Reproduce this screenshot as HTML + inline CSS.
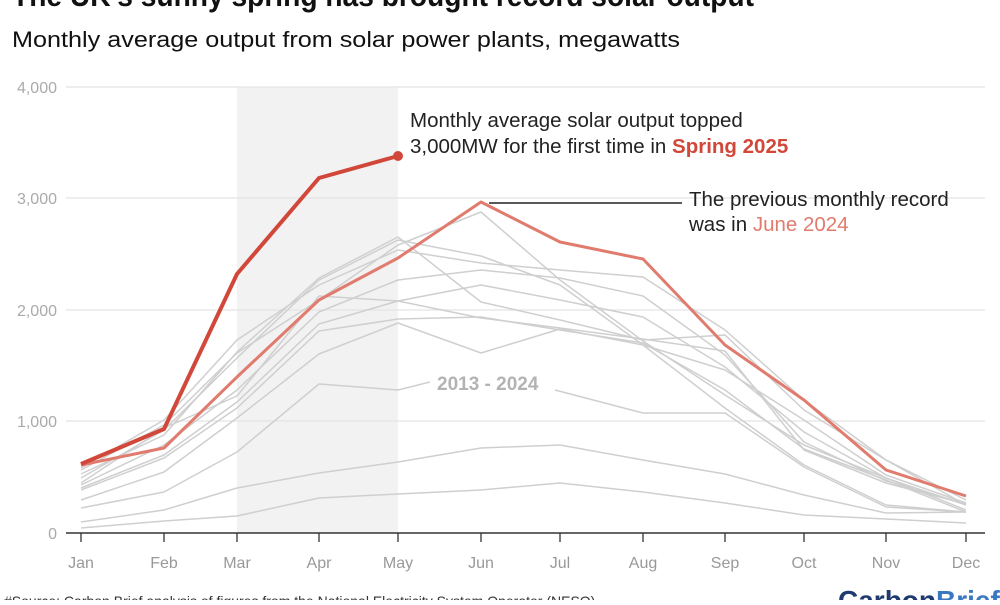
<!DOCTYPE html>
<html><head><meta charset="utf-8"><style>
body{margin:0;background:#fff;width:1000px;height:600px;overflow:hidden;font-family:"Liberation Sans",sans-serif}
</style></head><body>
<svg width="1000" height="600" xmlns="http://www.w3.org/2000/svg" font-family="Liberation Sans, sans-serif">
<text x="12" y="6" font-size="31" font-weight="bold" fill="#111" textLength="742" lengthAdjust="spacingAndGlyphs">The UK's sunny spring has brought record solar output</text>
<text x="12" y="47" font-size="22" fill="#111" textLength="668" lengthAdjust="spacingAndGlyphs">Monthly average output from solar power plants, megawatts</text>
<rect x="237" y="87" width="161" height="446" fill="#f2f2f2"/>
<g stroke="#e4e4e4" stroke-width="1.2">
<line x1="66" y1="87" x2="985" y2="87"/><line x1="66" y1="198" x2="985" y2="198"/><line x1="66" y1="310" x2="985" y2="310"/><line x1="66" y1="421" x2="985" y2="421"/>
</g>
<g font-size="16" fill="#aaa" text-anchor="end">
<text x="57" y="93">4,000</text><text x="57" y="204">3,000</text><text x="57" y="316">2,000</text><text x="57" y="427">1,000</text><text x="57" y="539">0</text>
</g>
<g fill="none" stroke="#cfcfcf" stroke-width="1.5" stroke-linejoin="round">
<polyline points="81,528 164,521 237,516 319,498 398,494 481,490 560,483 643,492 725,503 804,515 886,519 966,523"/>
<polyline points="81,522 164,510 237,488 319,473 398,462 481,448 560,445 643,460 725,474 804,495 886,513 966,512"/>
<polyline points="81,508 164,492 237,452 319,384 398,390 430,382"/>
<polyline points="555,390 643,413 725,413 804,467 886,507 966,512"/>
<polyline points="81,500 164,472 237,418 319,354 398,323 481,353 560,329 643,345 725,408 804,465 886,505 966,512"/>
<polyline points="81,490 164,458 237,408 319,331 398,319 481,317 560,330 643,343 725,390 804,449 886,480 966,512"/>
<polyline points="81,488 164,455 237,402 319,324 398,301 481,285 560,300 643,317 725,367 804,432 886,478 966,510"/>
<polyline points="81,485 164,445 237,390 319,312 398,280 481,270 560,278 643,296 725,355 804,442 886,481 966,504"/>
<polyline points="81,483 164,428 237,396 319,296 398,301 481,318 560,328 643,339 725,351 804,450 886,483 966,504"/>
<polyline points="81,478 164,430 237,358 319,280 398,240 481,256 560,285 643,345 725,370 804,420 886,475 966,503"/>
<polyline points="81,474 164,435 237,352 319,278 398,237 481,302 560,320 643,340 725,335 804,410 886,460 966,500"/>
<polyline points="81,470 164,425 237,353 319,300 398,245 481,212 560,280 643,341 725,395 804,445 886,478 966,505"/>
<polyline points="81,468 164,420 237,340 319,285 398,250 481,263 560,270 643,277 725,330 804,400 886,460 966,505"/>
</g>
<text x="437" y="390" font-size="19" font-weight="bold" fill="#b3b3b3">2013 - 2024</text>
<polyline fill="none" stroke="#e07b6e" stroke-width="3" stroke-linejoin="round" points="81,465 164,448 237,377 319,300 398,258 481,202 560,242 643,259 725,345 804,400 886,470 966,496"/>
<polyline fill="none" stroke="#d1483a" stroke-width="4" stroke-linejoin="round" points="81,464 164,429 237,274 319,178 398,156"/>
<circle cx="398" cy="156" r="5" fill="#d1483a"/>
<line x1="489" y1="203" x2="682" y2="203" stroke="#222" stroke-width="1.5"/>
<g font-size="20.5" fill="#222">
<text x="410" y="127">Monthly average solar output topped</text>
<text x="410" y="153">3,000MW for the first time in <tspan fill="#d1483a" font-weight="bold">Spring 2025</tspan></text>
<text x="689" y="206">The previous monthly record</text>
<text x="689" y="231">was in <tspan fill="#e07b6e">June 2024</tspan></text>
</g>
<line x1="66" y1="533" x2="985" y2="533" stroke="#333" stroke-width="1.5"/>
<g stroke="#333" stroke-width="1.3">
<line x1="81" y1="533" x2="81" y2="542"/><line x1="164" y1="533" x2="164" y2="542"/><line x1="237" y1="533" x2="237" y2="542"/><line x1="319" y1="533" x2="319" y2="542"/><line x1="398" y1="533" x2="398" y2="542"/><line x1="481" y1="533" x2="481" y2="542"/><line x1="560" y1="533" x2="560" y2="542"/><line x1="643" y1="533" x2="643" y2="542"/><line x1="725" y1="533" x2="725" y2="542"/><line x1="804" y1="533" x2="804" y2="542"/><line x1="886" y1="533" x2="886" y2="542"/><line x1="966" y1="533" x2="966" y2="542"/>
</g>
<g font-size="16" fill="#999" text-anchor="middle">
<text x="81" y="568">Jan</text><text x="164" y="568">Feb</text><text x="237" y="568">Mar</text><text x="319" y="568">Apr</text><text x="398" y="568">May</text><text x="481" y="568">Jun</text><text x="560" y="568">Jul</text><text x="643" y="568">Aug</text><text x="725" y="568">Sep</text><text x="804" y="568">Oct</text><text x="886" y="568">Nov</text><text x="966" y="568">Dec</text>
</g>
<text x="4" y="606" font-size="14" fill="#333">#Source: Carbon Brief analysis of figures from the National Electricity System Operator (NESO)</text>
<text x="838" y="610" font-size="28" font-weight="bold" fill="#1e3a6e">Carbon<tspan fill="#3a78c2">Brief</tspan></text>
</svg>
</body></html>
